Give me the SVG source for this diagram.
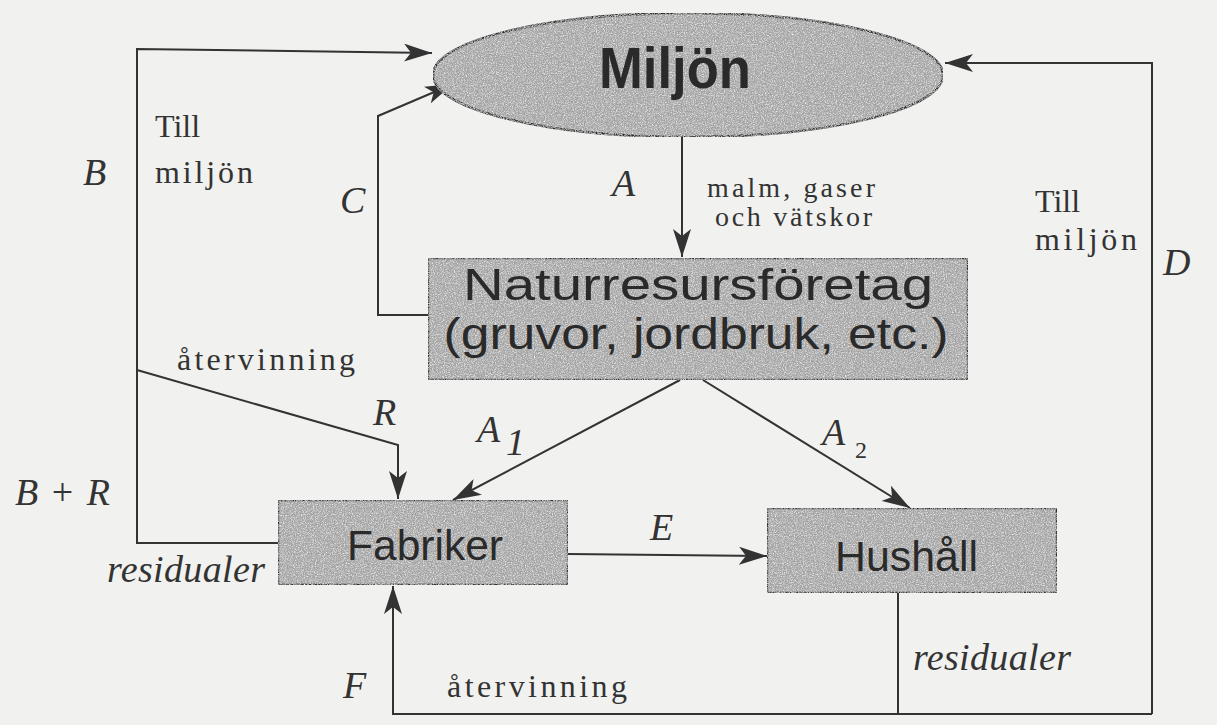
<svg xmlns="http://www.w3.org/2000/svg" width="1217" height="725" viewBox="0 0 1217 725">
<style>
.ln{fill:none;stroke:#333;stroke-width:2}
.arr{marker-end:url(#ah)}
.box{fill:#ababab;stroke:#2e2e2e;stroke-width:2.5}
.nt{font-family:"Liberation Sans",Arial,sans-serif;fill:#2a2a2a}
.it{font-family:"Liberation Serif","Times New Roman",serif;font-style:italic;fill:#333;font-size:38px}
.sf{font-family:"Liberation Serif","Times New Roman",serif;fill:#333}
</style>
<defs>
<marker id="ah" markerUnits="userSpaceOnUse" markerWidth="30" markerHeight="18" refX="28" refY="9" orient="auto">
<path d="M0,0 L28,9 L0,18 L7,9 z" fill="#333"/>
</marker>
<filter id="grain" x="0" y="0" width="100%" height="100%">
<feTurbulence type="fractalNoise" baseFrequency="0.9" numOctaves="2" seed="7" result="t"/>
<feColorMatrix in="t" type="matrix" values="0 0 0 0 0.85  0 0 0 0 0.85  0 0 0 0 0.85  0 0 0 2.2 -0.9" result="g"/>
<feComposite in="g" in2="SourceGraphic" operator="in" result="m"/>
<feTurbulence type="fractalNoise" baseFrequency="0.7" numOctaves="2" seed="3" result="t2"/>
<feColorMatrix in="t2" type="matrix" values="0 0 0 0 0.3  0 0 0 0 0.3  0 0 0 0 0.3  0 0 0 2.2 -0.95" result="g2"/>
<feComposite in="g2" in2="SourceGraphic" operator="in" result="m2"/>
<feMerge><feMergeNode in="SourceGraphic"/><feMergeNode in="m"/><feMergeNode in="m2"/></feMerge>
</filter>
</defs>
<rect width="1217" height="725" fill="#f1f1ef"/>

<g id="connectors">
<path class="ln arr" d="M278,543 H137 V49 L432,53"/>
<path class="ln arr" d="M137,370 L398,445 V499"/>
<path class="ln arr" d="M428,315 H378 V116 L453,84"/>
<path class="ln arr" d="M682,137 V257"/>
<path class="ln arr" d="M680,380 L453,500"/>
<path class="ln arr" d="M703,380 L910,508"/>
<path class="ln arr" d="M568,554 L767,556"/>
<path class="ln" d="M898,593 V714"/>
<path class="ln arr" d="M1152,714 H393 V586"/>
<path class="ln arr" d="M1152,714 V63 H945"/>
</g>

<g id="miljon">
<ellipse cx="688" cy="75" rx="255" ry="62" class="box" fill="#a0a0a0" filter="url(#grain)"/>
<text x="675" y="88" class="nt" font-size="58" font-weight="bold" text-anchor="middle" textLength="152" lengthAdjust="spacingAndGlyphs">Miljön</text>
</g>

<g id="naturresurs">
<rect x="428" y="258" width="540" height="122" class="box" filter="url(#grain)"/>
<text x="698" y="300" class="nt" font-size="44" text-anchor="middle" textLength="470" lengthAdjust="spacingAndGlyphs">Naturresursföretag</text>
<text x="696" y="349" class="nt" font-size="44" text-anchor="middle" textLength="505" lengthAdjust="spacingAndGlyphs">(gruvor, jordbruk, etc.)</text>
</g>

<g id="fabriker">
<rect x="278" y="500" width="290" height="85" class="box" fill="#afafaf" filter="url(#grain)"/>
<text x="347" y="560" class="nt" font-size="42" textLength="156" lengthAdjust="spacingAndGlyphs">Fabriker</text>
</g>

<g id="hushall">
<rect x="767" y="508" width="290" height="85" class="box" fill="#afafaf" filter="url(#grain)"/>
<text x="835" y="571" class="nt" font-size="42" textLength="143" lengthAdjust="spacingAndGlyphs">Hushåll</text>
</g>

<g id="labels">
<text x="83" y="185" class="it">B</text>
<text x="155" y="137" class="sf" font-size="32">Till</text>
<text x="155" y="183" class="sf" font-size="32" textLength="98">miljön</text>
<text x="340" y="213" class="it">C</text>
<text x="612" y="196" class="it">A</text>
<text x="707" y="197" class="sf" font-size="28" textLength="168">malm, gaser</text>
<text x="715" y="226" class="sf" font-size="28" textLength="157">och vätskor</text>
<text x="1035" y="212" class="sf" font-size="32">Till</text>
<text x="1035" y="250" class="sf" font-size="32" textLength="102">miljön</text>
<text x="1163" y="275" class="it" font-size="40">D</text>
<text x="177" y="370" class="sf" font-size="32" textLength="178">återvinning</text>
<text x="373" y="425" class="it">R</text>
<text x="477" y="442" class="it">A</text>
<text x="506" y="455" class="it" font-size="22">1</text>
<text x="822" y="445" class="it">A</text>
<text x="855" y="458" class="sf" font-size="24">2</text>
<text x="15" y="505" class="it" font-size="40" textLength="95">B<tspan font-style="normal">+</tspan>R</text>
<text x="107" y="582" class="it" font-size="29" textLength="158">residualer</text>
<text x="650" y="540" class="it">E</text>
<text x="343" y="698" class="it">F</text>
<text x="447" y="697" class="sf" font-size="32" textLength="180">återvinning</text>
<text x="913" y="670" class="it" font-size="29" textLength="158">residualer</text>
</g>
</svg>
